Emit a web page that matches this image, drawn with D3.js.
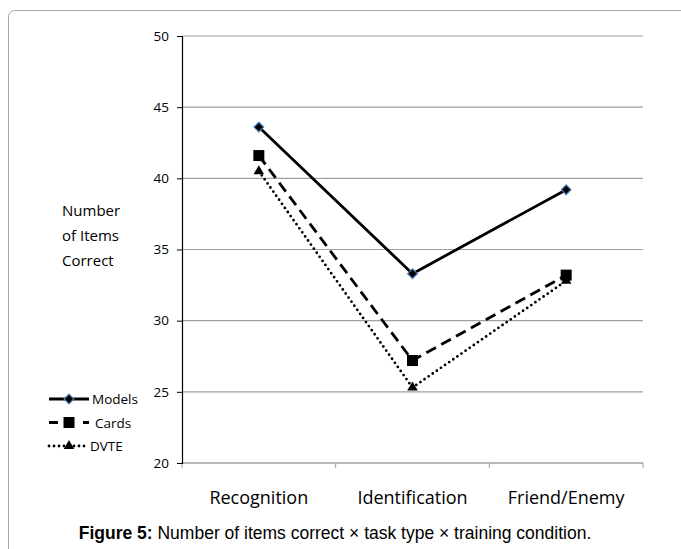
<!DOCTYPE html>
<html><head><meta charset="utf-8">
<script src="https://cdn.jsdelivr.net/npm/d3@7"></script>
<style>html,body{margin:0;padding:0;background:#fff;}</style>
</head><body>
<svg id="c" width="681" height="549"></svg>
<script>
const categories = ["Recognition", "Identification", "Friend/Enemy"];
const seriesNames = ["Models", "Cards", "DVTE"];
const models = [43.6, 33.3, 39.2];
const cards = [41.6, 27.2, 33.2];
const dvte = [40.5, 25.3, 32.8];
const yTicks = [20, 25, 30, 35, 40, 45, 50];
const yLabelLines = ["Number", "of Items", "Correct"];

(function () {
const svg = d3.select("#c");
svg.append("rect").attr("x", 8.5).attr("y", 10.5).attr("width", 700).attr("height", 600)
  .attr("rx", 6).attr("fill", "none").attr("stroke", "#a6a6a6").attr("stroke-width", 1);

const pL = 182, pR = 643, pT = 36, pB = 463;
const x = d3.scaleBand().domain(categories).range([pL, pR]);
const y = d3.scaleLinear().domain([20, 50]).range([pB, pT]);

svg.append("g").selectAll("line").data(yTicks.filter(t => t > 20)).join("line")
  .attr("x1", pL).attr("x2", pR).attr("y1", d => y(d)).attr("y2", d => y(d))
  .attr("stroke", "#a0a0a0").attr("stroke-width", 1.2);

const xa = svg.append("g").attr("transform", `translate(0,${pB})`);
xa.append("line").attr("x1", pL).attr("x2", pR).attr("stroke", "#a0a0a0").attr("stroke-width", 1.5);
const xb = [pL, ...categories.map(c => x(c) + x.bandwidth())];
xa.selectAll("line.t").data(xb).join("line").attr("class", "t")
  .attr("x1", d => d).attr("x2", d => d).attr("y1", 0).attr("y2", 5)
  .attr("stroke", "#a0a0a0").attr("stroke-width", 1);
xa.selectAll("text").data(categories).join("text")
  .attr("x", d => x(d) + x.bandwidth() / 2).attr("y", 41)
  .attr("text-anchor", "middle").attr("font-family", "Open Sans, sans-serif").attr("font-size", 18)
  .attr("fill", "#000").text(d => d);

const ya = svg.append("g").attr("transform", `translate(${pL},0)`)
  .call(d3.axisLeft(y).tickValues(yTicks).tickSize(5).tickPadding(8));
ya.select(".domain").attr("stroke", "#000").attr("stroke-width", 1.2);
ya.selectAll(".tick line").attr("stroke", "#000");
ya.selectAll(".tick text").attr("font-family", "Open Sans, sans-serif").attr("font-size", 13.5).attr("fill", "#000");

svg.append("text").attr("font-family", "Open Sans, sans-serif").attr("font-size", 15).attr("fill", "#000")
  .selectAll("tspan").data(yLabelLines).join("tspan")
  .attr("x", 62).attr("y", (d, i) => 216 + i * 25).text(d => d);

const cx = c => x(c) + x.bandwidth() / 2;
const line = d3.line().x((d, i) => cx(categories[i])).y(d => y(d));
const styles = [
  { data: models, dash: null, cap: "butt" },
  { data: cards, dash: "11,6", cap: "butt" },
  { data: dvte, dash: "0,5", cap: "round" }
];
styles.forEach(s => {
  svg.append("path").datum(s.data).attr("d", line).attr("fill", "none")
    .attr("stroke", "#000").attr("stroke-width", 2.8)
    .attr("stroke-dasharray", s.dash).attr("stroke-linecap", s.cap);
});

function marker(g, type, px, py) {
  if (type === 0) {
    g.append("path").attr("d", d3.symbol(d3.symbolDiamond2, 60)()).attr("transform", `translate(${px},${py})`)
      .attr("fill", "#000").attr("stroke", "#4a7ebb").attr("stroke-width", 1.2);
  } else if (type === 1) {
    g.append("rect").attr("x", px - 5.5).attr("y", py - 5.5).attr("width", 11).attr("height", 11).attr("fill", "#000");
  } else {
    g.append("path").attr("d", d3.symbol(d3.symbolTriangle, 48)()).attr("transform", `translate(${px},${py})`)
      .attr("fill", "#000");
  }
}
const mg = svg.append("g");
[models, cards, dvte].forEach((arr, si) => arr.forEach((v, i) => marker(mg, si, cx(categories[i]), y(v))));

const lg = svg.append("g");
seriesNames.forEach((n, i) => {
  const ly = 399 + i * 23.5;
  lg.append("line").attr("x1", 49).attr("x2", 89).attr("y1", ly).attr("y2", ly)
    .attr("stroke", "#000").attr("stroke-width", 2.8)
    .attr("stroke-dasharray", styles[i].dash).attr("stroke-linecap", styles[i].cap);
  if (i === 1) {
    lg.append("rect").attr("x", 58).attr("y", ly - 6).attr("width", 21).attr("height", 12).attr("fill", "#fff");
  }
  marker(lg, i, 69, ly);
  lg.append("text").attr("x", i === 1 ? 95 : (i === 2 ? 90 : 92)).attr("y", ly + 5)
    .attr("font-family", "Open Sans, sans-serif").attr("font-size", 13.5).attr("fill", "#000").text(n);
});

const cap = svg.append("text").attr("x", 335).attr("y", 539).attr("text-anchor", "middle")
  .attr("font-family", "Liberation Sans, Arial, sans-serif").attr("font-size", 17.5).attr("fill", "#000");
cap.append("tspan").attr("font-weight", "bold").text("Figure 5:");
cap.append("tspan").text(" Number of items correct × task type × training condition.");
})();
</script>
</body></html>
